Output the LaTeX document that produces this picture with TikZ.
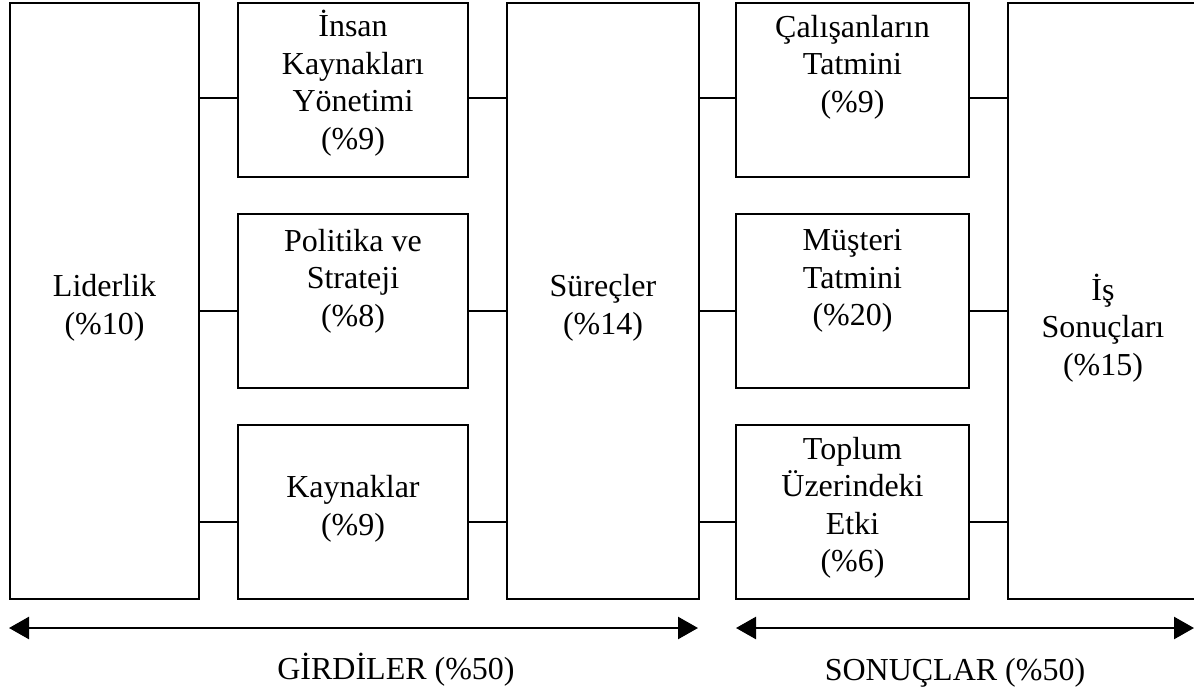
\documentclass[tikz,border=0pt]{standalone}
\usepackage{fontspec}
\setmainfont{Liberation Serif}
\usetikzlibrary{arrows.meta}
\begin{document}
\begin{tikzpicture}[x=1pt,y=-1pt,
  box/.style={draw=black,line width=2pt,inner sep=0pt},
  lbl/.style={align=center,inner sep=0pt,font=\fontsize{32}{37.5}\selectfont},
  conn/.style={line width=2pt},
  span/.style={line width=2.5pt,{Triangle[length=20pt,width=22pt]}-{Triangle[length=20pt,width=22pt]}}]
\useasboundingbox (0,0) rectangle (1194,696);
% boxes
\node[box,minimum width=189pt,minimum height=596pt] (L) at (104.5,301) {};
\node[box,minimum width=230pt,minimum height=174pt] (A1) at (353,90) {};
\node[box,minimum width=230pt,minimum height=174pt] (A2) at (353,301) {};
\node[box,minimum width=230pt,minimum height=174pt] (A3) at (353,512) {};
\node[box,minimum width=192pt,minimum height=596pt] (S) at (603,301) {};
\node[box,minimum width=233pt,minimum height=174pt] (B1) at (852.5,90) {};
\node[box,minimum width=233pt,minimum height=174pt] (B2) at (852.5,301) {};
\node[box,minimum width=233pt,minimum height=174pt] (B3) at (852.5,512) {};
\node[box,minimum width=200pt,minimum height=596pt] (R) at (1108,301) {};
% texts
\node[lbl] (tL) at (104.5,308) {Liderlik\\(\%10)};
\node[lbl] (tA1) at (353,83) {İnsan\\Kaynakları\\Yönetimi\\(\%9)};
\node[lbl] (tA2) at (353,281) {Politika ve\\Strateji\\(\%8)};
\node[lbl] (tA3) at (353,509) {Kaynaklar\\(\%9)};
\node[lbl] (tS) at (603,308) {Süreçler\\(\%14)};
\node[lbl] (tB1) at (852.5,67) {Çalışanların\\Tatmini\\(\%9)};
\node[lbl] (tB2) at (852.5,281) {Müşteri\\Tatmini\\(\%20)};
\node[lbl] (tB3) at (852.5,508) {Toplum\\Üzerindeki\\Etki\\(\%6)};
\node[lbl] (tR) at (1103,328) {İş\\Sonuçları\\(\%15)};
% connector levels
\coordinate (y1) at (0,98);
\coordinate (y2) at (0,311);
\coordinate (y3) at (0,522);
% connectors
\draw[conn] (L.east |- y1) -- (A1.west |- y1);
\draw[conn] (L.east |- y2) -- (A2.west |- y2);
\draw[conn] (L.east |- y3) -- (A3.west |- y3);
\draw[conn] (A1.east |- y1) -- (S.west |- y1);
\draw[conn] (A2.east |- y2) -- (S.west |- y2);
\draw[conn] (A3.east |- y3) -- (S.west |- y3);
\draw[conn] (S.east |- y1) -- (B1.west |- y1);
\draw[conn] (S.east |- y2) -- (B2.west |- y2);
\draw[conn] (S.east |- y3) -- (B3.west |- y3);
\draw[conn] (B1.east |- y1) -- (R.west |- y1);
\draw[conn] (B2.east |- y2) -- (R.west |- y2);
\draw[conn] (B3.east |- y3) -- (R.west |- y3);
% span arrows
\coordinate (g1) at (9,628);
\coordinate (g2) at (698,628);
\coordinate (s1) at (736,628);
\coordinate (s2) at (1194,628);
\draw[span] (g1) -- (g2);
\draw[span] (s1) -- (s2);
\node[lbl] (gl) at (396,670) {GİRDİLER (\%50)};
\node[lbl] (sl) at (955,673) {SONUÇLAR (\%50)};
\end{tikzpicture}
\end{document}
